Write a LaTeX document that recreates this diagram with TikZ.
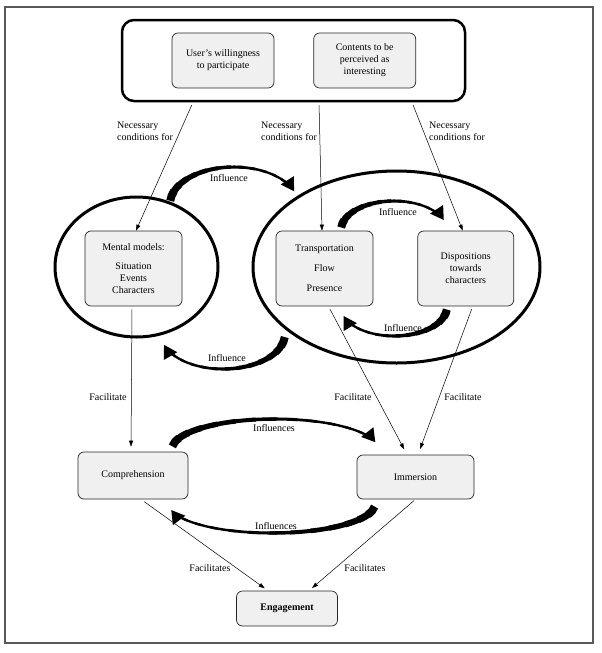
\documentclass[tikz,border=0pt]{standalone}
\usepackage{fontspec}
\setmainfont{Liberation Serif}
\usepackage{tikz}
\usetikzlibrary{positioning, shapes.geometric, arrows.meta}

\definecolor{boxgrey}{HTML}{F0F0F0}

% tapering curved arrow along an elliptic arc:
% centre x, centre y, x radius, y radius, start angle, end angle
\newcommand{\influencearc}[6]{%
  \pgfmathsetmacro{\abreak}{#5+0.86*(#6-#5)}
  \foreach \i in {0,...,11}{
    \pgfmathsetmacro{\angA}{#5+\i*(\abreak-#5)/12}
    \pgfmathsetmacro{\angB}{#5+(\i+1.4)*(\abreak-#5)/12}
    \pgfmathsetmacro{\lw}{2.3+5.7*(1-\i/11)^2}
    \draw[line width=\lw pt] (#1,#2) ++(\angA:#3 and #4)
      arc[start angle=\angA, end angle=\angB, x radius=#3, y radius=#4];
  }
  \draw[line width=2.3pt, -{Triangle[length=13pt,width=15pt]}] (#1,#2) ++(\abreak:#3 and #4)
    arc[start angle=\abreak, end angle=#6, x radius=#3, y radius=#4];
}

\begin{document}
\begin{tikzpicture}[x=1pt, y=-1pt,
     every node/.style = {font=\fontsize{10}{12}\selectfont},
        gbox/.style = {rectangle, draw=black!85, line width=0.7pt, fill=boxgrey,
                       rounded corners=6pt, align=center, inner sep=0pt},
       ring/.style = {ellipse, draw, line width=3pt, inner sep=0pt},
        lab/.style = {align=left, inner sep=0pt},
        con/.style = {line width=0.5pt, -{Triangle[length=6pt,width=4pt]}}
                        ]
\useasboundingbox (0,0) rectangle (602,653);
\draw[black!65, line width=1.2pt] (5,7) rectangle (593,643);

% top box
\node (top)[rectangle, draw, line width=2.5pt, rounded corners=12pt,
            minimum width=343pt, minimum height=81pt] at (293.5,60.5) {};
\node (user)[gbox, minimum width=102pt, minimum height=55pt] at (223,60.5)
     {User’s willingness\\to participate};
\node (contents)[gbox, minimum width=102pt, minimum height=55pt, right=39pt of user]
     {Contents to be\\perceived as\\interesting};

% rings
\node (mring)[ring, minimum width=163pt, minimum height=140pt] at (136.5,267) {};
\node (tring)[ring, minimum width=287pt, minimum height=192pt] at (396.5,267) {};

\node (mental)[gbox, minimum width=97pt, minimum height=75pt] at (133.5,268.5)
     {Mental models:\\[7pt]Situation\\Events\\Characters};
\node (trans)[gbox, minimum width=97pt, minimum height=75pt] at (324.5,268.5)
     {Transportation\\[8pt]Flow\\[8pt]Presence};
\node (disp)[gbox, minimum width=96pt, minimum height=75pt, right=44pt of trans]
     {Dispositions\\towards\\characters};

\node (compr)[gbox, minimum width=110pt, minimum height=47pt] at (133,475.5) {Comprehension};
\node (immers)[gbox, minimum width=117pt, minimum height=44pt] at (415.5,477) {Immersion};
\node (engage)[gbox, minimum width=101pt, minimum height=35pt] at (287,608.5)
     {\textbf{Engagement}};

% necessary conditions
\draw[con, shorten <=3pt] ([xshift=-100.5pt]top.south) to ([xshift=2.5pt]mental.north);
\draw[con, shorten <=3pt] ([xshift=25.5pt]top.south) to ([xshift=-2.5pt]trans.north);
\draw[con, shorten <=3pt] ([xshift=118.5pt]top.south) to ([xshift=-3pt]disp.north);
\node[lab, anchor=west] at (117,131) {Necessary\\conditions for};
\node[lab, anchor=west] at (261,131) {Necessary\\conditions for};
\node[lab, anchor=west] at (429,131) {Necessary\\conditions for};

% facilitate
\draw[con, shorten <=3pt, shorten >=5pt] ([xshift=-1.5pt]mental.south) to ([xshift=-2pt]compr.north);
\draw[con, shorten <=3pt, shorten >=6pt] ([xshift=4pt]trans.south) to ([xshift=-8.5pt]immers.north);
\draw[con, shorten <=3pt, shorten >=6pt] ([xshift=7pt]disp.south) to ([xshift=2.5pt]immers.north);
\node[lab] at (108,397) {Facilitate};
\node[lab] at (353,397) {Facilitate};
\node[lab] at (463,397) {Facilitate};

\draw[con, shorten <=4pt, shorten >=4pt] ([xshift=8pt]compr.south) to ([xshift=-19pt]engage.north);
\draw[con, shorten <=2pt, shorten >=4pt] (immers.south) to ([xshift=22pt]engage.north);
\node[lab] at (210,568) {Facilitates};
\node[lab] at (365,568) {Facilitates};

% influence arrows
\influencearc{234}{204}{64}{37}{185}{340}
\influencearc{223}{334}{62}{35}{5}{162}
\influencearc{394}{230}{53}{29}{185}{340}
\influencearc{394}{307}{53}{29}{5}{162}
\influencearc{275}{449}{103}{30}{185}{347}
\influencearc{272}{504}{103}{29}{5}{168}
\node[lab] at (229,178) {Influence};
\node[lab] at (227,358) {Influence};
\node[lab] at (398,212) {Influence};
\node[lab] at (403,328) {Influence};
\node[lab] at (274,428) {Influences};
\node[lab] at (276,526) {Influences};
\end{tikzpicture}
\end{document}
